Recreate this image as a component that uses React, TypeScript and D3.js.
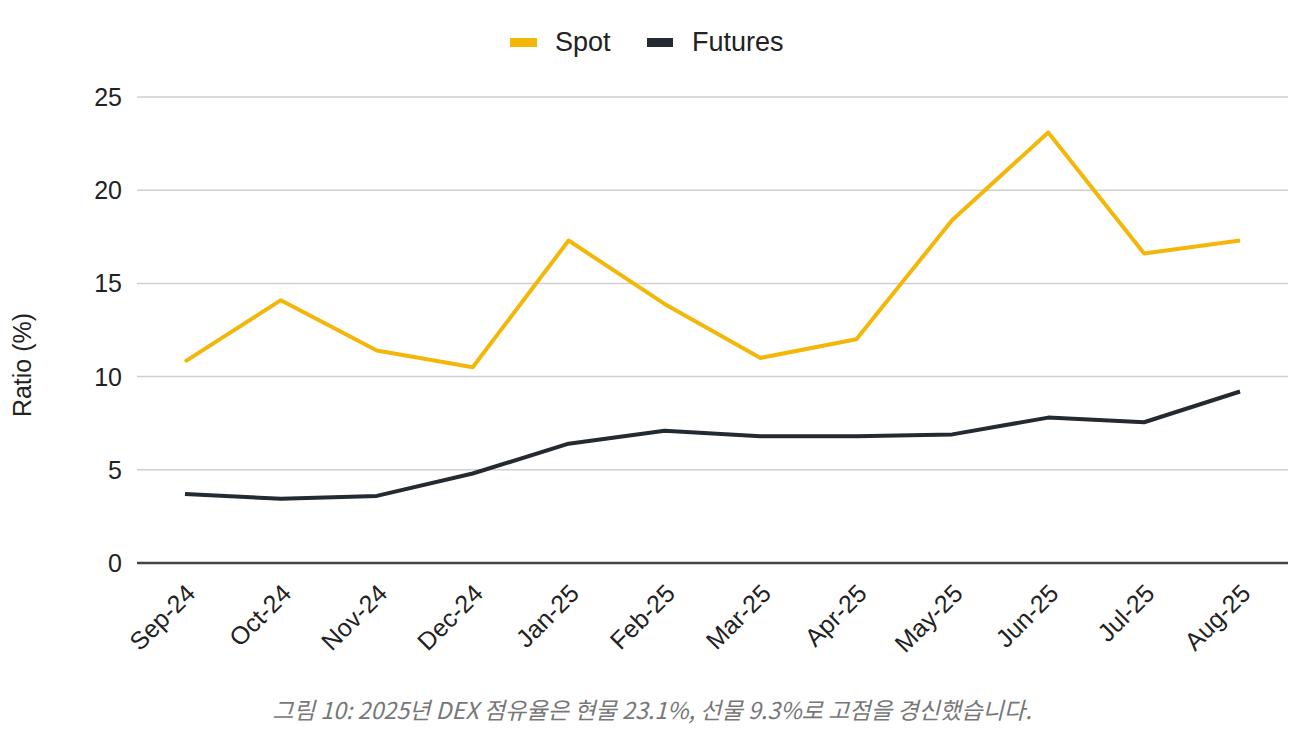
import * as React from 'react';
import * as d3 from 'd3';

const months = ['Sep-24', 'Oct-24', 'Nov-24', 'Dec-24', 'Jan-25', 'Feb-25', 'Mar-25', 'Apr-25', 'May-25', 'Jun-25', 'Jul-25', 'Aug-25'];
const spot = [10.8, 14.1, 11.4, 10.5, 17.3, 13.9, 11.0, 12.0, 18.4, 23.1, 16.6, 17.3];
const futures = [3.7, 3.45, 3.6, 4.8, 6.4, 7.1, 6.8, 6.8, 6.9, 7.8, 7.55, 9.2];
const yTicks = [0, 5, 10, 15, 20, 25];
const caption = '그림 10: 2025년 DEX 점유율은 현물 23.1%, 선물 9.3%로 고점을 경신했습니다.';

const W = 1312;
const H = 739;
const font = '"Liberation Sans", Arial, sans-serif';
const SPOT = '#F3B70A';
const FUT = '#232A31';

export default function App() {
  const x = d3.scaleBand<string>().domain(months).range([137, 1288]);
  const y = d3.scaleLinear().domain([0, 25]).range([563, 97]);
  const cx = (m: string) => (x(m) as number) + x.bandwidth() / 2;
  const line = d3
    .line<number>()
    .x((_, i) => cx(months[i]))
    .y((d) => y(d));

  return (
    <svg width={W} height={H} style={{ position: 'absolute', left: 0, top: 0 }}>
      <rect width={W} height={H} fill="#fff" />
      {/* legend */}
      <g fontFamily={font} fontSize={27} fill="#222">
        <rect x={510} y={38} width={27} height={9} fill={SPOT} />
        <text x={555} y={51}>Spot</text>
        <rect x={647} y={38} width={26} height={9} fill={FUT} />
        <text x={692} y={51}>Futures</text>
      </g>
      {/* grid + y ticks */}
      {yTicks.map((t) => (
        <g key={t}>
          {t > 0 && (
            <line x1={137} x2={1288} y1={y(t)} y2={y(t)} stroke="#cfcfcf" strokeWidth={1.5} />
          )}
          <text
            x={122}
            y={y(t) + 9}
            textAnchor="end"
            fontFamily={font}
            fontSize={25}
            fill="#222"
          >
            {t}
          </text>
        </g>
      ))}
      <line x1={137} x2={1288} y1={y(0)} y2={y(0)} stroke="#444" strokeWidth={2.5} />
      <text
        transform={`translate(31,${365}) rotate(-90)`}
        textAnchor="middle"
        fontFamily={font}
        fontSize={25}
        fill="#222"
      >
        Ratio (%)
      </text>
      {/* x labels */}
      {months.map((m) => (
        <text
          key={m}
          transform={`translate(${cx(m) + 12},${595}) rotate(-45)`}
          textAnchor="end"
          fontFamily={font}
          fontSize={25}
          fill="#222"
        >
          {m}
        </text>
      ))}
      {/* series */}
      <path d={line(spot) || ''} fill="none" stroke={SPOT} strokeWidth={4} strokeLinejoin="round" />
      <path d={line(futures) || ''} fill="none" stroke={FUT} strokeWidth={4} strokeLinejoin="round" />
      {/* caption */}
      <text
        x={652}
        y={719}
        textAnchor="middle"
        fontFamily='"Noto Sans CJK KR", "Noto Sans", sans-serif'
        fontStyle="italic"
        fontSize={23.2}
        fill="#777"
      >
        {caption}
      </text>
    </svg>
  );
}
